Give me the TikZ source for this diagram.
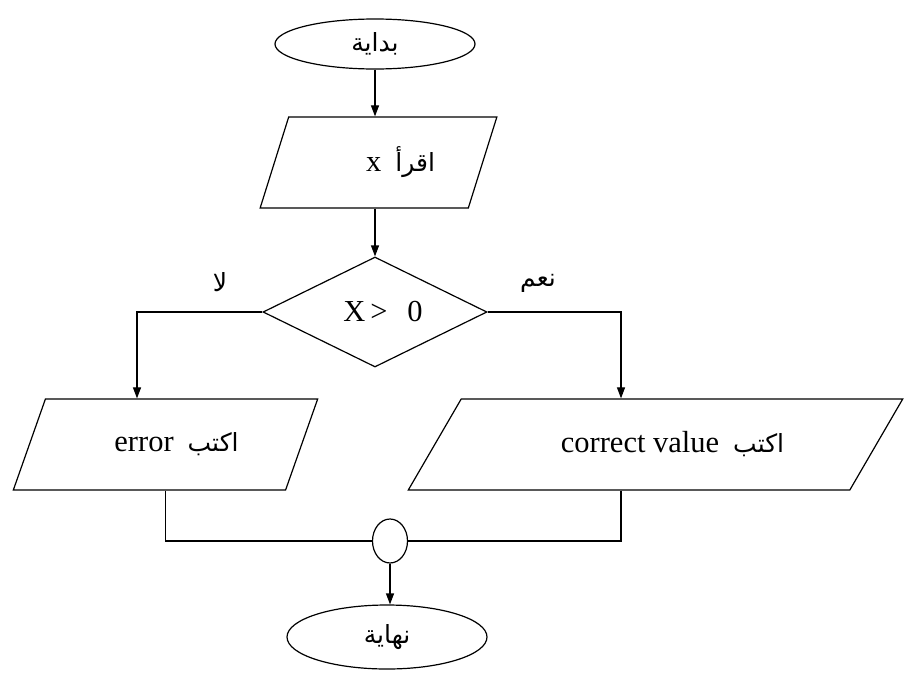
\documentclass[tikz,border=0pt]{standalone}
\usepackage{fontspec}
\setmainfont{Liberation Serif}
\newfontfamily\arabicfont[Script=Arabic]{DejaVu Sans}
\TeXXeTstate=1
\usetikzlibrary{shapes.geometric,arrows.meta}
\newcommand{\artext}[1]{{\arabicfont\fontsize{25}{28}\selectfont\beginR #1\endR}}
\begin{document}
\begin{tikzpicture}[x=1pt, y=-1pt, line width=1.2pt,
    font=\fontsize{30.5}{33}\selectfont,
    terminal/.style={ellipse, draw, inner sep=0pt},
    io/.style={trapezium, draw, trapezium stretches=true, minimum height=91pt, inner sep=0pt},
    decision/.style={diamond, draw, inner sep=0pt, minimum width=224pt, minimum height=110pt},
    arrow/.style={-{Triangle[length=11pt,width=8pt]}}]
    \useasboundingbox (0,0) rectangle (904,672);
    % Start and input
    \node[terminal, minimum width=200pt, minimum height=50pt] (start) at (375,44) {\artext{بداية}};
    \node[io, trapezium left angle=60, trapezium right angle=120,
          minimum width=237pt] (read) at (378.5,162.5) {\hspace{44pt}x\hspace{14pt}\artext{اقرأ}};
    % Decision
    \node[decision] (cond) at (375,312) {\phantom{X\kern5pt>\kern20pt 0}\llap{X\kern5pt>\kern20pt 0\hspace{-8pt}}};
    \node (noLbl)  at (220,282) {\artext{لا}};
    \node (yesLbl) at (538,283) {\artext{نعم}};
    \coordinate (noX)  at (137,312);
    \coordinate (yesX) at (621,312);
    % Outputs
    \node[io, trapezium left angle=50, trapezium right angle=130,
          minimum width=305pt] (err) at (165.5,444.5) {\hspace{22pt}error\hspace{14pt}\artext{اكتب}};
    \node[io, trapezium left angle=36, trapezium right angle=144,
          minimum width=495pt] (ok) at (655.5,444.5) {\hspace{34pt}correct value\hspace{14pt}\artext{اكتب}};
    % Join and end
    \node[terminal, minimum width=35pt, minimum height=44pt] (join) at (390,541) {};
    \node[terminal, minimum width=200pt, minimum height=64pt] (stop) at (387,637) {\artext{نهاية}};
    % Connectors
    \draw[arrow] (start) -- (start |- read.north);
    \draw[arrow] (read.south -| cond.north) -- (cond.north);
    \draw[arrow] (cond.west) -- (noX) -- (noX |- err.north);
    \draw[arrow] (cond.east) -- (yesX) -- (yesX |- ok.north);
    \draw (err.south) |- (join.west);
    \draw (ok.south -| yesX) |- (join.east);
    \draw[arrow] (join.south) -- (join.south |- stop.north);
\end{tikzpicture}
\end{document}
